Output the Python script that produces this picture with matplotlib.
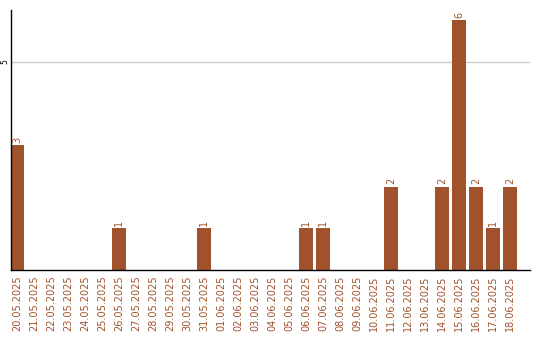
import numpy as np
import matplotlib.pyplot as plt

dates = ["20.05.2025", "21.05.2025", "22.05.2025", "23.05.2025", "24.05.2025",
         "25.05.2025", "26.05.2025", "27.05.2025", "28.05.2025", "29.05.2025",
         "30.05.2025", "31.05.2025", "01.06.2025", "02.06.2025", "03.06.2025",
         "04.06.2025", "05.06.2025", "06.06.2025", "07.06.2025", "08.06.2025",
         "09.06.2025", "10.06.2025", "11.06.2025", "12.06.2025", "13.06.2025",
         "14.06.2025", "15.06.2025", "16.06.2025", "17.06.2025", "18.06.2025"]
counts = [3, 0, 0, 0, 0, 0, 1, 0, 0, 0, 0, 1, 0, 0, 0,
          0, 0, 1, 1, 0, 0, 0, 2, 0, 0, 2, 6, 2, 1, 2]

brown = "#a0522d"

fig = plt.figure(figsize=(5.4, 3.4), dpi=100)
ax = fig.add_axes([10.5 / 540, 70 / 340, 519.5 / 540, 260 / 340])

x = np.arange(len(dates))
bars = ax.bar(x, counts, width=0.82, color=brown, zorder=2)

for xi, c in zip(x, counts):
    if c > 0:
        ax.text(xi, c + 0.06, str(c), rotation=90, ha="center", va="bottom",
                color=brown, fontsize=7)

ax.set_xlim(-0.41, 30.18)
ax.set_ylim(0, 6.24)
ax.set_yticks([5])
ax.set_yticklabels(["5"], rotation=90, va="center", fontsize=5.5)
ax.yaxis.grid(True, color="#cccccc", linewidth=1, zorder=0)
ax.tick_params(axis="y", length=0, pad=0.5)

ax.set_xticks(x)
ax.set_xticklabels(dates, rotation=90, color=brown, fontsize=7)
ax.tick_params(axis="x", length=0, pad=4)

for s in ["top", "right"]:
    ax.spines[s].set_visible(False)
ax.spines["left"].set_linewidth(1)
ax.spines["bottom"].set_linewidth(1)

fig.savefig("out.png", dpi=100)
